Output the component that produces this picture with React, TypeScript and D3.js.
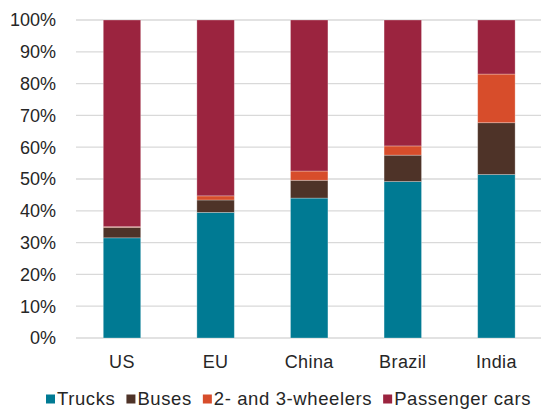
import React, { useEffect, useRef } from "react";
import * as d3 from "d3";

// Share of road-vehicle category by region (%)
const regions = ["US", "EU", "China", "Brazil", "India"];
const seriesNames = ["Trucks", "Buses", "2- and 3-wheelers", "Passenger cars"];
const trucks = [31.5, 39.5, 44.0, 49.2, 51.4];
const buses = [3.3, 3.9, 5.6, 8.3, 16.3];
const twoThreeWheelers = [0.2, 1.3, 2.9, 2.9, 15.3];
const passengerCars = [65.0, 55.3, 47.5, 39.6, 17.0];
const yTicks = [0, 10, 20, 30, 40, 50, 60, 70, 80, 90, 100];

const colors = ["#007A93", "#4E3328", "#D74D2B", "#9B243F"];

const W = 541;
const H = 410;
const FONT = "'Liberation Sans', Arial, Helvetica, sans-serif";
const TEXT = "#262626";

export default function App() {
  const ref = useRef<SVGSVGElement | null>(null);

  useEffect(() => {
    const svg = d3.select(ref.current);
    svg.selectAll("*").remove();

    const values = [trucks, buses, twoThreeWheelers, passengerCars];
    const rows = regions.map((r, i) => {
      const row: Record<string, number | string> = { region: r };
      seriesNames.forEach((s, k) => (row[s] = values[k][i]));
      return row;
    });

    const x = d3
      .scaleBand<string>()
      .domain(regions)
      .range([75.2, 543.2])
      .paddingInner(0.6)
      .paddingOuter(0.3);
    const y = d3.scaleLinear().domain([0, 100]).range([338, 20]);

    // gridlines
    svg
      .append("g")
      .selectAll("line")
      .data(yTicks)
      .join("line")
      .attr("x1", 76)
      .attr("x2", W)
      .attr("y1", (d) => y(d))
      .attr("y2", (d) => y(d))
      .attr("stroke", "#D9D9D9")
      .attr("stroke-width", 1.3);

    // y tick labels
    svg
      .append("g")
      .selectAll("text")
      .data(yTicks)
      .join("text")
      .attr("x", 56)
      .attr("y", (d) => y(d))
      .attr("dy", "0.35em")
      .attr("text-anchor", "end")
      .attr("font-family", FONT)
      .attr("font-size", 18)
      .attr("fill", TEXT)
      .text((d) => `${d}%`);

    // stacked bars
    const stacked = d3.stack<any>().keys(seriesNames)(rows as any);
    svg
      .append("g")
      .selectAll("g")
      .data(stacked)
      .join("g")
      .attr("fill", (_, i) => colors[i])
      .selectAll("rect")
      .data((d) => d)
      .join("rect")
      .attr("x", (d: any) => x(d.data.region)!)
      .attr("width", x.bandwidth())
      .attr("y", (d) => y(d[1]))
      .attr("height", (d) => Math.max(0, y(d[0]) - y(d[1])))
      .attr("stroke", "#ffffff")
      .attr("stroke-opacity", 0.35)
      .attr("stroke-width", 0.8);

    // category labels
    svg
      .append("g")
      .selectAll("text")
      .data(regions)
      .join("text")
      .attr("x", (d) => x(d)! + x.bandwidth() / 2)
      .attr("y", 367.5)
      .attr("text-anchor", "middle")
      .attr("font-family", FONT)
      .attr("font-size", 18)
      .attr("letter-spacing", 0.4)
      .attr("fill", TEXT)
      .text((d) => d);

    // legend: swatch, label, then the next entry after a fixed gap
    const legend = svg.append("g");
    const spacing = 0.6;
    let lx = 46;
    seriesNames.forEach((name, i) => {
      legend
        .append("rect")
        .attr("x", lx)
        .attr("y", 394.5)
        .attr("width", 9)
        .attr("height", 9)
        .attr("fill", colors[i]);
      const t = legend
        .append("text")
        .attr("x", lx + 11)
        .attr("y", 404.5)
        .attr("font-family", FONT)
        .attr("font-size", 18.5)
        .attr("fill", TEXT)
        .text(name);
      const w0 = (t.node() as SVGTextElement).getComputedTextLength();
      t.attr("letter-spacing", spacing);
      const w = w0 + spacing * name.length;
      lx = lx + 11 + w + 11;
    });
  }, []);

  return (
    <svg
      ref={ref}
      width={W}
      height={H}
      style={{ position: "absolute", left: 0, top: 0, background: "#fff" }}
    />
  );
}
